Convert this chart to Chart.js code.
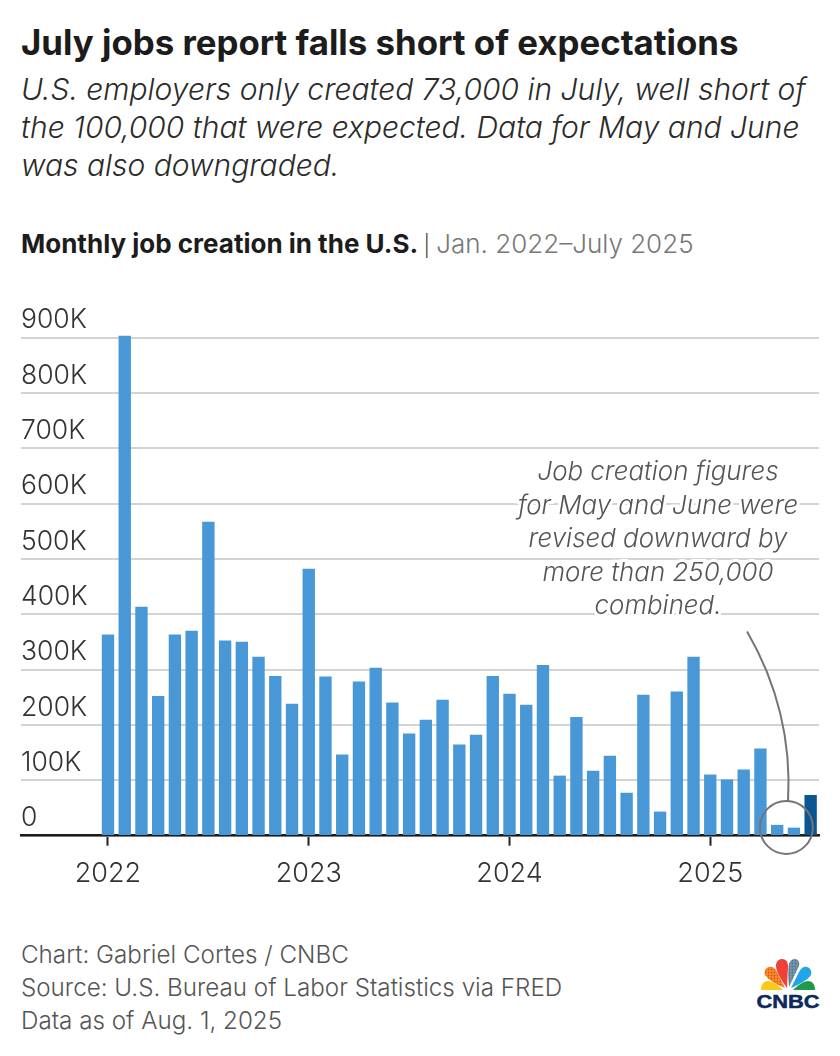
<!DOCTYPE html>
<html>
<head>
<meta charset="utf-8">
<title>July jobs report</title>
<script src="https://cdn.jsdelivr.net/npm/chart.js@4"></script>
<style>
  html, body { margin: 0; padding: 0; background: #fff; }
  body { width: 840px; height: 1056px; position: relative; overflow: hidden; font-family: Inter, sans-serif; color: #2b2b2b; }
  .txt { position: absolute; left: 21px; white-space: nowrap; }
  #title { top: 21px; font-size: 34.8px; font-weight: 700; color: #1c1c1c; }
  #sub { top: 70px; font-size: 30px; line-height: 38px; font-style: italic; font-weight: 300; color: #2b2b2b; }
  #head { top: 228px; font-size: 26px; font-weight: 300; color: #777; }
  #head b { color: #1c1c1c; font-weight: 700; }
  #head i { font-style: normal; font-size: 21px; margin: 0 -1px 0 -2px; color: #444; }
  #foot { top: 938px; font-size: 24.2px; line-height: 33px; font-weight: 300; color: #555; }
  #note { position: absolute; left: 478px; width: 360px; top: 454px; text-align: center; font-size: 25.9px; line-height: 33.6px; font-style: italic; font-weight: 300; color: #555;
    -webkit-text-stroke: 6px #fff; paint-order: stroke fill; }
  #wrap { position: absolute; left: 0; top: 300px; width: 840px; height: 600px; }
  #logo { position: absolute; left: 752px; top: 956px; }
</style>
</head>
<body>
<div id="title" class="txt">July jobs report falls short of expectations</div>
<div id="sub" class="txt">U.S. employers only created 73,000 in July, well short of<br>the 100,000 that were expected. Data for May and June<br>was also downgraded.</div>
<div id="head" class="txt"><b>Monthly job creation in the U.S.</b> <i>|</i> Jan. 2022–July 2025</div>
<div id="wrap"><canvas id="jobsChart" width="840" height="600"></canvas></div>
<div id="note">Job creation figures<br>for May and June were<br>revised downward by<br>more than 250,000<br>combined.</div>
<div id="foot" class="txt">Chart: Gabriel Cortes / CNBC<br>Source: U.S. Bureau of Labor Statistics via FRED<br>Data as of Aug. 1, 2025</div>
<svg id="logo" width="72" height="58" viewBox="0 0 72 58">
  <defs>
    <pattern id="dotsRed" width="3" height="3" patternUnits="userSpaceOnUse"><rect width="3" height="3" fill="#f7941d"/><circle cx="1.5" cy="1.5" r="0.9" fill="#e8432c"/></pattern>
    <pattern id="dotsBlue" width="3" height="3" patternUnits="userSpaceOnUse"><rect width="3" height="3" fill="#8a8f96"/><circle cx="1.5" cy="1.5" r="0.9" fill="#2a7fb8"/></pattern>
  </defs>
  <path d="M31 34 C26 29 20 25 16 25 C12 25 9 28 9 34 Z" fill="#fcc917"/>
  <path d="M33 32 L25 16 C23 12 20 10 17 11 C13 12 12 16 13 19 C16 24 26 29 33 32 Z" fill="url(#dotsRed)"/>
  <path d="M35 32 C29 24 24 15 24 10 C24 5 27 3 30 3 C34 3 36 6 36 10 Z" fill="#ef4135"/>
  <path d="M37 31 C36 22 36 12 37 8 C38 4 41 3 43 3 C46 3 48 6 47 10 Z" fill="url(#dotsBlue)"/>
  <path d="M39 32 L47 16 C49 12 52 10 55 11 C59 12 60 16 59 19 C56 24 46 29 39 32 Z" fill="#22a5e6"/>
  <path d="M41 34 C46 29 52 25 56 25 C60 25 63 28 63 34 Z" fill="#1f9a48"/>
  <text x="36" y="52" text-anchor="middle" textLength="63" lengthAdjust="spacingAndGlyphs" font-family="Liberation Sans" font-weight="700" font-size="18.5" fill="#0b2a5b" stroke="#0b2a5b" stroke-width="0.5">CNBC</text>
</svg>

<script>
// Monthly change in payrolls, thousands, Jan 2022 - Jul 2025
const months = ['Jan 22','Feb 22','Mar 22','Apr 22','May 22','Jun 22','Jul 22','Aug 22','Sep 22','Oct 22','Nov 22','Dec 22',
  'Jan 23','Feb 23','Mar 23','Apr 23','May 23','Jun 23','Jul 23','Aug 23','Sep 23','Oct 23','Nov 23','Dec 23',
  'Jan 24','Feb 24','Mar 24','Apr 24','May 24','Jun 24','Jul 24','Aug 24','Sep 24','Oct 24','Nov 24','Dec 24',
  'Jan 25','Feb 25','Mar 25','Apr 25','May 25','Jun 25','Jul 25'];
const jobs = [363, 903, 413, 252, 363, 370, 567, 352, 350, 323, 288, 238,
  482, 287, 146, 278, 303, 240, 184, 209, 245, 164, 182, 288,
  256, 236, 308, 108, 214, 117, 144, 77, 254, 43, 260, 323,
  110, 101, 119, 157, 19, 14, 73];
const yearTicks = [0, 12, 24, 36];
const yearLabels = ['2022', '2023', '2024', '2025'];
const valueTicks = [0, 100, 200, 300, 400, 500, 600, 700, 800, 900];

const barColors = months.map((m, i) => i === months.length - 1 ? '#0b5592' : '#4898d8');

// circle + leader line for the May/June revision note
const calloutPlugin = {
  id: 'callout',
  afterDatasetsDraw(chart) {
    const { ctx, scales: { x, y } } = chart;
    ctx.save();
    ctx.strokeStyle = '#757575';
    ctx.lineWidth = 2;
    ctx.beginPath();
    ctx.arc(x.getPixelForValue(40.55), y.getPixelForValue(15), 26.5, 0, Math.PI * 2);
    ctx.stroke();
    ctx.beginPath();
    ctx.moveTo(x.getPixelForValue(38.2), y.getPixelForValue(369));
    ctx.bezierCurveTo(x.getPixelForValue(40.1), y.getPixelForValue(270), x.getPixelForValue(40.85), y.getPixelForValue(170), x.getPixelForValue(40.65), y.getPixelForValue(62));
    ctx.stroke();
    ctx.restore();
  }
};

new Chart(document.getElementById('jobsChart'), {
  type: 'bar',
  data: {
    labels: months,
    datasets: [{
      data: jobs.map((v, i) => ({ x: i, y: v })),
      backgroundColor: barColors,
      barThickness: 11.7,
      clip: false
    }]
  },
  plugins: [calloutPlugin],
  options: {
    responsive: false,
    animation: false,
    events: [],
    layout: { padding: { left: 21, right: 21, top: 37.7, bottom: 0.3 } },
    plugins: { legend: { display: false }, tooltip: { enabled: false } },
    scales: {
      x: {
        type: 'linear',
        min: -5.2,
        max: 42.5,
        offset: false,
        afterBuildTicks(axis) { axis.ticks = yearTicks.map(v => ({ value: v })); },
        afterFit(axis) { axis.height = 64; },
        ticks: {
          autoSkip: false,
          maxRotation: 0,
          padding: 12,
          color: '#333',
          font: { family: 'Inter', size: 27, weight: 300 },
          callback: v => yearLabels[yearTicks.indexOf(v)]
        },
        grid: { display: true, offset: false, drawOnChartArea: false, drawTicks: true, tickLength: 10, tickColor: '#222', tickWidth: 2 },
        border: { display: true, color: '#1c1c1c', width: 2.5 }
      },
      y: {
        min: 0,
        max: 900,
        afterBuildTicks(axis) { axis.ticks = valueTicks.map(v => ({ value: v })); },
        afterFit(axis) { axis.width = 0; },
        ticks: {
          mirror: true,
          padding: 0,
          labelOffset: -17.5,
          color: '#333',
          font: { family: 'Inter', size: 26.5, weight: 300 },
          callback: v => v === 0 ? '0' : v + 'K'
        },
        grid: { color: '#d3d3d3', lineWidth: 2, drawTicks: false },
        border: { display: false }
      }
    }
  }
});
</script>
</body>
</html>
